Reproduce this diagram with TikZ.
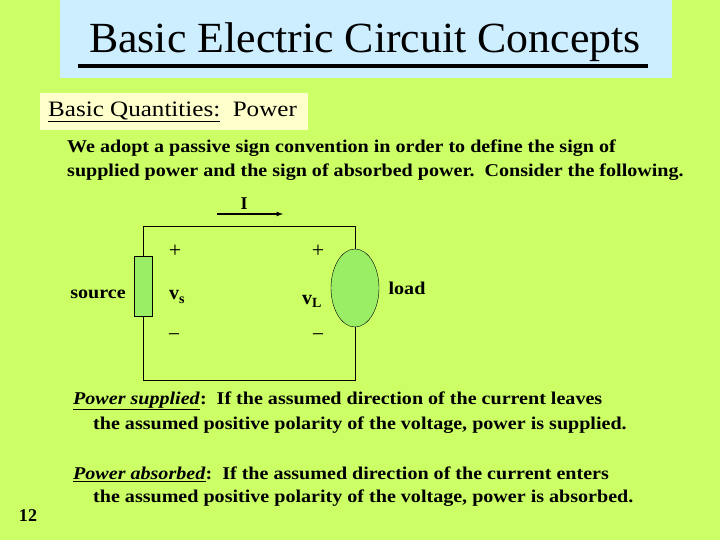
\documentclass[tikz,border=0pt]{standalone}
\usepackage{fontspec}
\setmainfont{Liberation Serif}
\usetikzlibrary{shapes.geometric}
\definecolor{bg}{HTML}{CCFF66}
\definecolor{tbox}{HTML}{CCEEFF}
\definecolor{sbox}{HTML}{FFFFCC}
\definecolor{comp}{HTML}{99EE66}
\newcommand{\wt}[1]{\scalebox{1.115}[1]{#1}}
\begin{document}
\begin{tikzpicture}[x=1pt,y=-1pt,
  txt/.style={font=\fontsize{18}{20}\selectfont\bfseries,anchor=west,inner sep=0},
  lab/.style={font=\fontsize{22}{24}\selectfont,inner sep=0},
  bl/.style={font=\fontsize{18}{20}\selectfont\bfseries,inner sep=0},
  wire/.style={draw,line width=0.8pt}]
\fill[bg] (0,0) rectangle (720,540);
\useasboundingbox (0,0) rectangle (720,540);
\node[fill=tbox,minimum width=612pt,minimum height=78pt,anchor=north west,inner sep=0] (tb) at (60,0) {};
\node[inner sep=0,font=\fontsize{43}{46}\selectfont] (title) at (365,42) {\scalebox{1.02}[1]{Basic Electric Circuit Concepts}};
\draw[line width=4pt] (78,66) -- (648,66);
\node[fill=sbox,minimum width=268pt,minimum height=37pt,anchor=north west,inner sep=0] (sb) at (40,93) {};
\node[anchor=west,inner sep=0,font=\fontsize{22}{24}\selectfont] (st) at (48,112) {\scalebox{1.14}[1]{\underline{Basic Quantities:}\ \ Power}};
\node[txt] (l1) at (67,148) {\wt{We adopt a passive sign convention in order to define the sign of}};
\node[txt] (l2) at (67,172) {\wt{supplied power and the sign of absorbed power.\ \ Consider the following.}};
% circuit
\node[draw,fill=comp,minimum width=18pt,minimum height=60pt,inner sep=0] (src) at (143,286) {};
\node[draw,fill=comp,ellipse,minimum width=48pt,minimum height=78pt,inner sep=0] (ld) at (355,288) {};
\coordinate (tl) at (143,226); \coordinate (tr) at (355,226);
\coordinate (bl) at (143,380); \coordinate (br) at (355,380);
\draw[wire] (src.north) -- (tl) -- (tr) -- (ld.north);
\draw[wire] (src.south) -- (bl) -- (br) -- (ld.south);
\coordinate (a1) at (217,214); \coordinate (a2) at (283,214);
\draw[line width=1.2pt,-latex] (a1) -- (a2);
\node[bl] (I) at (244,204) {I};
\node[lab] (p1) at (175,251) {+};
\node[lab] (p2) at (318,251) {+};
\node[lab] (m1) at (174,338) {\textminus};
\node[lab] (m2) at (318,338) {\textminus};
\node[bl,font=\fontsize{20}{22}\selectfont\bfseries] (vs) at (177,297) {v\textsubscript{s}};
\node[bl,font=\fontsize{20}{22}\selectfont\bfseries] (vl) at (312,301) {v\textsubscript{L}};
\node[bl] (so) at (98,294) {\wt{source}};
\node[bl] (lo) at (407,288) {\wt{load}};
\node[txt] (s1) at (73,401) {\wt{\underline{\textit{Power supplied}}:\ \ If the assumed direction of the current leaves}};
\node[txt] (s2) at (93,425) {\wt{the assumed positive polarity of the voltage, power is supplied.}};
\node[txt] (b1) at (73,474) {\wt{\underline{\textit{Power absorbed}}:\ \ If the assumed direction of the current enters}};
\node[txt] (b2) at (93,498) {\wt{the assumed positive polarity of the voltage, power is absorbed.}};
\node[bl] (n) at (28,516) {12};
\end{tikzpicture}
\end{document}
